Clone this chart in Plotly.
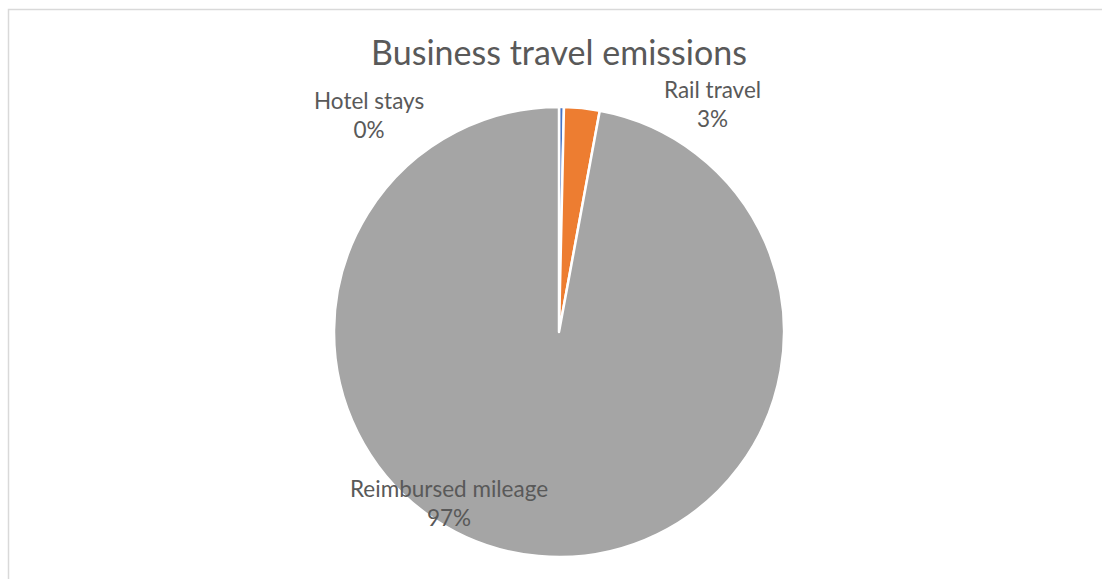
import plotly.graph_objects as go

# Business travel emissions by source (share of total)
categories = ["Hotel stays", "Rail travel", "Reimbursed mileage"]
emissions = [0.35, 2.55, 97.1]
colors = ["#4472C4", "#ED7D31", "#A5A5A5"]

W, H = 1102, 579
total = sum(emissions)
percents = [round(v / total * 100) for v in emissions]

fig = go.Figure(
    go.Pie(
        labels=categories,
        values=emissions,
        sort=False,
        direction="clockwise",
        rotation=0,
        marker=dict(colors=colors, line=dict(color="#FFFFFF", width=2.5)),
        textinfo="none",
        hoverinfo="label+percent",
        showlegend=False,
        domain=dict(x=[334 / W, 784 / W], y=[22 / H, 472 / H]),
    )
)

# Data labels placed around the pie
label_pos = {
    "Hotel stays": (369, 115),
    "Rail travel": (712, 104),
    "Reimbursed mileage": (449, 503),
}
for name, pct in zip(categories, percents):
    px, py = label_pos[name]
    fig.add_annotation(
        x=px / W, y=1 - py / H, xref="paper", yref="paper",
        text=f"{name}<br>{pct}%", showarrow=False,
        xanchor="center", yanchor="middle", align="center",
        font=dict(family="Lato, Calibri, sans-serif", size=22.5, color="#595959"),
    )

# Chart area border
fig.add_shape(
    type="rect", xref="paper", yref="paper",
    x0=8.5 / W, x1=1.2, y0=-0.2, y1=1 - 9.5 / H,
    line=dict(color="#D9D9D9", width=1.5), fillcolor="rgba(0,0,0,0)",
)

fig.update_layout(
    width=W, height=H,
    margin=dict(l=0, r=0, t=0, b=0),
    paper_bgcolor="#FFFFFF", plot_bgcolor="#FFFFFF",
    title=dict(
        text="Business travel emissions",
        x=559 / W, y=1 - 53 / H, xref="paper", yref="container",
        xanchor="center", yanchor="middle",
        font=dict(family="Lato, Calibri, sans-serif", size=34, color="#595959"),
    ),
)

fig.write_html("out.html")
